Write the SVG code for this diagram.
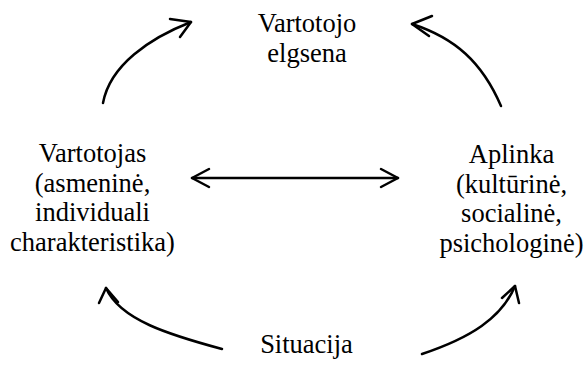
<svg xmlns="http://www.w3.org/2000/svg" width="585" height="365" viewBox="0 0 585 365">
  <style>
    .lbl { font-family: "Liberation Serif", "Times New Roman", serif; font-size: 26.5px; fill: #000; text-anchor: middle; }
    .ln { fill: none; stroke: #000; stroke-width: 2.5; stroke-linecap: round; stroke-linejoin: round; }
  </style>
  <rect width="585" height="365" fill="#fff"/>

  <g id="elgsena">
    <text class="lbl" x="307" y="32">Vartotojo</text>
    <text class="lbl" x="307" y="62">elgsena</text>
  </g>

  <g id="vartotojas">
    <text class="lbl" x="92.5" y="162">Vartotojas</text>
    <text class="lbl" x="92.5" y="192">(asmeninė,</text>
    <text class="lbl" x="92.5" y="221">individuali</text>
    <text class="lbl" x="92.5" y="251">charakteristika)</text>
  </g>

  <g id="aplinka">
    <text class="lbl" x="511.5" y="163">Aplinka</text>
    <text class="lbl" x="511.5" y="193">(kultūrinė,</text>
    <text class="lbl" x="511.5" y="222">socialinė,</text>
    <text class="lbl" x="511.5" y="252">psichologinė)</text>
  </g>

  <g id="situacija">
    <text class="lbl" x="306.5" y="353">Situacija</text>
  </g>

  <g id="connectors">
    <!-- Vartotojas -> Vartotojo elgsena -->
    <path class="ln" d="M103,103 C110,65 150,38 191,22"/>
    <path class="ln" d="M170,19 L191,22 L180,37"/>
    <!-- Aplinka -> Vartotojo elgsena -->
    <path class="ln" d="M501,106 C482,62 455,38 412,24"/>
    <path class="ln" d="M432,16 L412,24 L429,36"/>
    <!-- Vartotojas <-> Aplinka -->
    <path class="ln" d="M192,178 L398,178"/>
    <path class="ln" d="M209,169 L192,178 L209,187"/>
    <path class="ln" d="M381,169 L398,178 L381,187"/>
    <!-- Situacija -> Vartotojas -->
    <path class="ln" d="M222,349 C170,335 120,320 106,288"/>
    <path class="ln" d="M99,303 L106,288 L118,302"/>
    <!-- Situacija -> Aplinka -->
    <path class="ln" d="M422,354 C470,338 502,318 515,286"/>
    <path class="ln" d="M502,298 L515,286 L519,303"/>
  </g>
</svg>
